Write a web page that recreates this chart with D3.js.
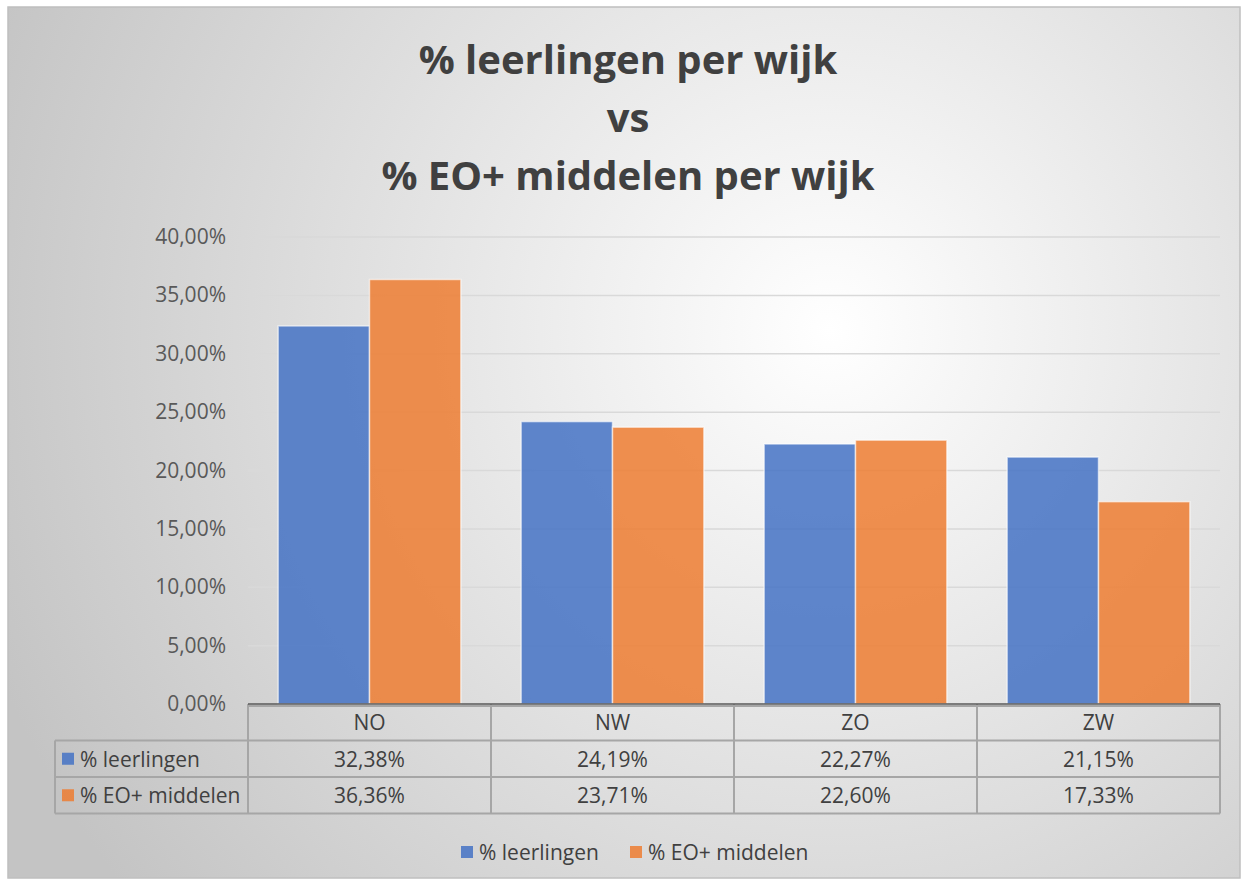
<!DOCTYPE html>
<html>
<head>
<meta charset="utf-8">
<script src="https://cdnjs.cloudflare.com/ajax/libs/d3/7.8.5/d3.min.js"></script>
<style>
  body { margin: 0; background: #fff; }
  svg text { font-family: "Open Sans", "Noto Sans", sans-serif; }
</style>
</head>
<body>
<svg id="vis" width="1246" height="884"></svg>
<script>
// chart data
var wijken = ["NO", "NW", "ZO", "ZW"];
var leerlingen = [32.38, 24.19, 22.27, 21.15];
var eoMiddelen = [36.36, 23.71, 22.60, 17.33];
var seriesNames = ["% leerlingen", "% EO+ middelen"];
var yTicks = [0, 5, 10, 15, 20, 25, 30, 35, 40];
var titleLines = ["% leerlingen per wijk", "vs", "% EO+ middelen per wijk"];

var colors = ["#4472C4", "#ED7D31"];
var series = [leerlingen, eoMiddelen];

var svg = d3.select("#vis");

// background: soft radial gradient like the office chart style
var defs = svg.append("defs");
var grad = defs.append("radialGradient")
    .attr("id", "bg")
    .attr("gradientUnits", "userSpaceOnUse")
    .attr("cx", 830).attr("cy", 330).attr("r", 900);
grad.append("stop").attr("offset", "0%").attr("stop-color", "#ffffff");
grad.append("stop").attr("offset", "100%").attr("stop-color", "#c4c4c4");

svg.append("rect")
    .attr("x", 8).attr("y", 7)
    .attr("width", 1232).attr("height", 871)
    .attr("fill", "url(#bg)")
    .attr("stroke", "#bfbfbf")
    .attr("stroke-width", 1.5);

// title
svg.append("g").selectAll("text")
    .data(titleLines)
    .join("text")
    .attr("x", 628)
    .attr("y", (d, i) => 74 + i * 58)
    .attr("text-anchor", "middle")
    .attr("font-size", "40px")
    .attr("font-weight", "bold")
    .attr("fill", "#404040")
    .text(d => d);

// layout
var plotLeft = 248, plotRight = 1220, plotTop = 237, plotBottom = 704;

var x = d3.scaleBand().domain(wijken).range([plotLeft, plotRight]);
var xInner = d3.scaleBand().domain([0, 1]).range([0, x.bandwidth()]).paddingOuter(0.33).paddingInner(0);
var y = d3.scaleLinear().domain([0, 40]).range([plotBottom, plotTop]);

// gridlines
svg.append("g").selectAll("line")
    .data(yTicks.slice(1))
    .join("line")
    .attr("x1", plotLeft).attr("x2", plotRight)
    .attr("y1", d => y(d)).attr("y2", d => y(d))
    .attr("stroke", "#d9d9d9")
    .attr("stroke-width", 1.5);

// y axis labels
var fmt = v => d3.format(".2f")(v).replace(".", ",") + "%";
svg.append("g").selectAll("text")
    .data(yTicks)
    .join("text")
    .attr("x", 226)
    .attr("y", d => y(d) + 7)
    .attr("text-anchor", "end")
    .attr("font-size", "21px")
    .attr("fill", "#595959")
    .text(d => fmt(d));

// bars
series.forEach((vals, s) => {
    svg.append("g").selectAll("rect")
        .data(vals)
        .join("rect")
        .attr("x", (d, i) => x(wijken[i]) + xInner(s))
        .attr("y", d => y(d))
        .attr("width", xInner.bandwidth())
        .attr("height", d => plotBottom - y(d))
        .attr("fill", colors[s])
        .attr("fill-opacity", 0.85)
        .attr("stroke", "#ffffff")
        .attr("stroke-opacity", 0.6)
        .attr("stroke-width", 1.5);
});

// data table
var rowH = 36.5;
var tableLeft = 55;
var tbl = svg.append("g");
var lineColor = "#a6a6a6";

// horizontal lines
[1, 2, 3].forEach(r => {
    tbl.append("line").attr("x1", tableLeft).attr("x2", plotRight)
        .attr("y1", plotBottom + rowH * r).attr("y2", plotBottom + rowH * r)
        .attr("stroke", lineColor).attr("stroke-width", 2);
});
tbl.append("line").attr("x1", plotLeft).attr("x2", plotRight)
    .attr("y1", plotBottom + 2).attr("y2", plotBottom + 2)
    .attr("stroke", lineColor).attr("stroke-width", 2);

// vertical lines
var vx = wijken.map(w => x(w)).concat([plotRight]);
tbl.selectAll(".vline")
    .data(vx)
    .join("line")
    .attr("class", "vline")
    .attr("x1", d => d).attr("x2", d => d)
    .attr("y1", plotBottom).attr("y2", plotBottom + rowH * 3)
    .attr("stroke", lineColor).attr("stroke-width", 2);
tbl.append("line").attr("x1", tableLeft).attr("x2", tableLeft)
    .attr("y1", plotBottom + rowH).attr("y2", plotBottom + rowH * 3)
    .attr("stroke", lineColor).attr("stroke-width", 2);

// axis line
svg.append("line").attr("x1", plotLeft).attr("x2", plotRight)
    .attr("y1", plotBottom).attr("y2", plotBottom)
    .attr("stroke", "#595959").attr("stroke-width", 1.5);

// header
tbl.selectAll(".hdr")
    .data(wijken)
    .join("text")
    .attr("class", "hdr")
    .attr("x", d => x(d) + x.bandwidth() / 2)
    .attr("y", plotBottom + rowH / 2 + 8)
    .attr("text-anchor", "middle")
    .attr("font-size", "21px")
    .attr("fill", "#404040")
    .text(d => d);

series.forEach((vals, s) => {
    var ry = plotBottom + rowH * (s + 1);
    tbl.append("rect")
        .attr("x", 62).attr("y", ry + rowH / 2 - 6)
        .attr("width", 12).attr("height", 12)
        .attr("fill", colors[s]).attr("fill-opacity", 0.85);
    tbl.append("text")
        .attr("x", 80).attr("y", ry + rowH / 2 + 8)
        .attr("font-size", "21px")
        .attr("fill", "#404040")
        .text(seriesNames[s]);
    tbl.append("g").selectAll("text")
        .data(vals)
        .join("text")
        .attr("x", (d, i) => x(wijken[i]) + x.bandwidth() / 2)
        .attr("y", ry + rowH / 2 + 8)
        .attr("text-anchor", "middle")
        .attr("font-size", "21px")
        .attr("fill", "#404040")
        .text(d => fmt(d));
});

// legend
var legX = [461, 630];
var leg = svg.append("g").selectAll("g")
    .data(seriesNames)
    .join("g")
    .attr("transform", (d, i) => `translate(${legX[i]},852)`);
leg.append("rect")
    .attr("x", 0).attr("y", -6)
    .attr("width", 12).attr("height", 12)
    .attr("fill", (d, i) => colors[i]).attr("fill-opacity", 0.85);
leg.append("text")
    .attr("x", 18).attr("y", 8)
    .attr("font-size", "21px")
    .attr("fill", "#404040")
    .text(d => d);
</script>
</body>
</html>
